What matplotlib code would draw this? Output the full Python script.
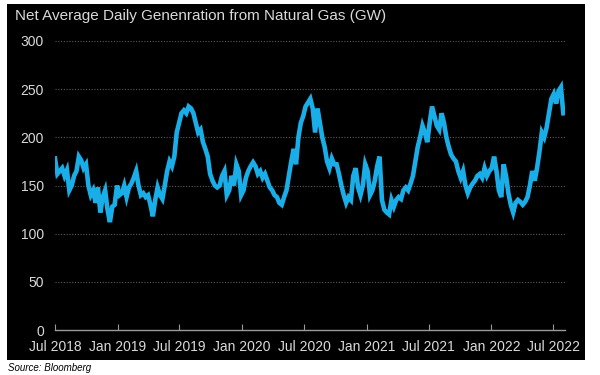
import matplotlib
matplotlib.use("Agg")
import matplotlib.pyplot as plt
import matplotlib.dates as mdates
from matplotlib.patches import Rectangle
import pandas as pd

title = "Net Average Daily Genenration from Natural Gas (GW)"
source = "Source: Bloomberg"
start_date = "2018-07-01"

# weekly readings (GW)
vals_2018h2 = [178, 162, 165, 168, 160, 166, 145, 150, 160, 165, 180, 176, 168, 172,
               150, 140, 145, 132, 148, 122, 138, 145, 125, 112, 128, 130, 150, 140]
vals_2019h1 = [142, 150, 138, 148, 152, 158, 165, 150, 140, 142, 138, 140, 130, 118, 135,
               148, 140, 136, 150, 165, 175, 170, 180, 205, 215, 225, 228, 225, 232, 230]
vals_2019h2 = [225, 215, 205, 208, 195, 188, 180, 162, 155, 150, 148, 150, 160, 165, 140,
               145, 160, 150, 172, 165, 140, 145, 158, 165, 170, 174, 170, 162, 165, 158]
vals_2020h1 = [162, 155, 148, 145, 140, 138, 132, 130, 138, 145, 160, 175, 188, 172, 200,
               215, 222, 232, 236, 240, 230, 205, 230, 215, 200, 190, 175, 168, 178, 172]
vals_2020h2 = [172, 162, 150, 140, 132, 138, 135, 160, 168, 148, 140, 150, 172, 165, 140,
               145, 155, 170, 180, 135, 125, 122, 120, 135, 128, 135, 138, 136, 145, 148]
vals_2021h1 = [145, 152, 160, 175, 190, 200, 212, 205, 195, 215, 232, 222, 212, 208, 225,
               215, 200, 190, 182, 178, 175, 165, 158, 165, 150, 142, 148, 152, 155, 160]
vals_2022 = [162, 158, 168, 160, 165, 168, 180, 165, 145, 138, 172, 160, 142, 130, 122,
             132, 135, 133, 130, 133, 138, 150, 165, 155, 168, 185, 205, 200, 210, 225,
             240, 245, 235, 248, 252, 225]

values = (vals_2018h2 + vals_2019h1 + vals_2019h2 + vals_2020h1 + vals_2020h2
          + vals_2021h1 + vals_2022)
dates = pd.date_range(start_date, periods=len(values), freq="7D")

tick_dates = pd.to_datetime(["2018-07-01", "2019-01-01", "2019-07-01", "2020-01-01",
                             "2020-07-01", "2021-01-01", "2021-07-01", "2022-01-01",
                             "2022-07-01"])
tick_labels = ["Jul 2018", "Jan 2019", "Jul 2019", "Jan 2020", "Jul 2020",
               "Jan 2021", "Jul 2021", "Jan 2022", "Jul 2022"]
y_ticks = [0, 50, 100, 150, 200, 250, 300]

plt.rcParams["font.family"] = ["Liberation Sans", "DejaVu Sans"]

W, H = 600, 375
fig = plt.figure(figsize=(6, 3.75), dpi=100)
fig.patch.set_facecolor("white")
fig.add_artist(Rectangle((7 / W, 1 - 360 / H), (585 - 7) / W, (360 - 4) / H,
                         transform=fig.transFigure, facecolor="black",
                         edgecolor="none", zorder=0))

ax = fig.add_axes([55 / W, 1 - 330 / H, (565 - 55) / W, (330 - 41) / H])
ax.set_facecolor("none")
ax.plot(dates, values, color="#1aaee8", lw=3.3, solid_joinstyle="miter", zorder=3)

ax.set_ylim(0, 300)
ax.set_xlim(pd.Timestamp("2018-07-01"), pd.Timestamp("2022-08-05"))
ax.set_yticks(y_ticks)
ax.set_xticks(tick_dates)
ax.set_xticklabels(tick_labels)
ax.grid(axis="y", color="#5a5a5a", linestyle=(0, (1, 1.5)), linewidth=0.8)
for s in ["top", "right", "left"]:
    ax.spines[s].set_visible(False)
ax.spines["bottom"].set_color("#9a9a9a")
ax.spines["bottom"].set_linewidth(1.0)
ax.tick_params(axis="x", direction="in", length=4, color="#9a9a9a",
               labelcolor="#d9d9d9", labelsize=10, pad=7)
ax.tick_params(axis="y", length=0, labelcolor="#d9d9d9", labelsize=10, pad=8)

fig.text(15 / W, 1 - 16 / H, title, color="#d9d9d9", fontsize=11,
         ha="left", va="center")
fig.text(8 / W, 1 - 368 / H, source, color="black", fontsize=7,
         style="italic", ha="left", va="center")

fig.savefig("out.png", dpi=100)
